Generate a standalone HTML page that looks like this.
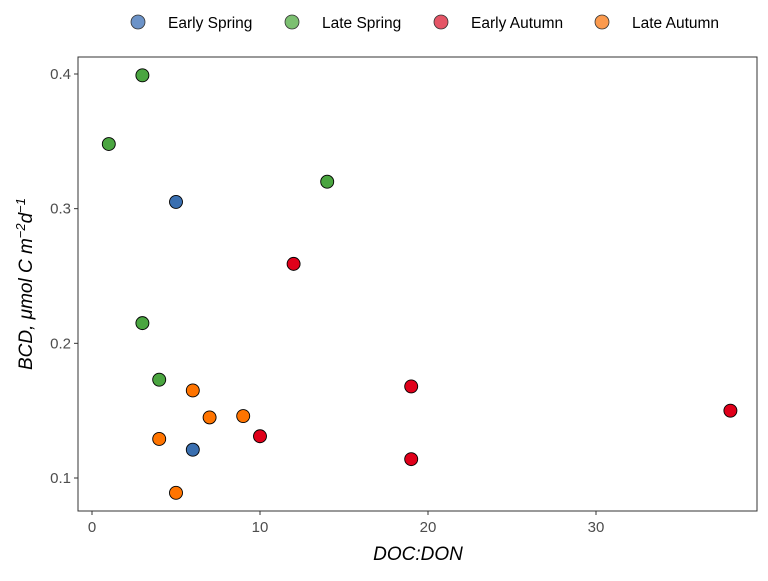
<!DOCTYPE html>
<html><head><meta charset="utf-8"><style>
body{margin:0;background:#fff;font-family:"Liberation Sans",Arial,sans-serif}
svg text{font-family:"Liberation Sans",Arial,sans-serif}
</style></head><body>
<svg width="768" height="576" xmlns="http://www.w3.org/2000/svg" id="chart">
<rect x="78" y="57" width="679" height="454" fill="#fff" stroke="#333" stroke-width="1"/>
<g id="axes"></g>
<g id="points"></g>
<g id="legend"></g>
<text x="418" y="560" text-anchor="middle" font-size="19" font-style="italic" fill="#000">DOC:DON</text>
<text transform="translate(32,284) rotate(-90)" text-anchor="middle" font-size="19" font-style="italic" fill="#000">BCD, μmol C m<tspan dy="-7" font-size="13">−2</tspan><tspan dy="7">d</tspan><tspan dy="-7" font-size="13">−1</tspan></text>
</svg>
<script>
const seriesNames=["Early Spring","Late Spring","Early Autumn","Late Autumn"];
const seriesColors=["#3a6fb0","#4aa540","#e0001a","#ff7400"];
const legendColors=["#6c93c8","#7cc071","#e55566","#fb9a4e"];
const xTicks=[0,10,20,30];
const yTicks=[0.1,0.2,0.3,0.4];
const esX=[5,6], esY=[0.305,0.121];
const lsX=[3,1,14,3,4], lsY=[0.399,0.348,0.320,0.215,0.173];
const eaX=[12,19,19,10,38], eaY=[0.259,0.168,0.114,0.131,0.150];
const laX=[6,7,9,4,5], laY=[0.165,0.145,0.146,0.129,0.089];
const NS="http://www.w3.org/2000/svg";
const xs=v=>92+v*16.8;
const ys=v=>478-(v-0.1)*1346.7;
const axes=document.getElementById('axes');
function mk(t,a,p){const e=document.createElementNS(NS,t);for(const k in a)e.setAttribute(k,a[k]);p.appendChild(e);return e;}
xTicks.forEach(t=>{
 const l=mk('line',{x1:xs(t),x2:xs(t),y1:511,y2:515,stroke:'#333'},axes);
 
 
 const tx=mk('text',{x:xs(t),y:532,'text-anchor':'middle','font-size':15,fill:'#4d4d4d'},axes);tx.textContent=t;
 
 
});
yTicks.forEach(t=>{
 const l=mk('line',{x1:74,x2:78,y1:ys(t),y2:ys(t),stroke:'#333'},axes);
 
 
 const tx=mk('text',{x:71,y:ys(t)+5,'text-anchor':'end','font-size':15,fill:'#4d4d4d'},axes);tx.textContent=t.toFixed(1);
 
 
});
const pts=document.getElementById('points');
[[esX,esY],[lsX,lsY],[eaX,eaY],[laX,laY]].forEach((s,i)=>{
 s[0].forEach((x,j)=>{
  const c=mk('circle',{cx:xs(x),cy:ys(s[1][j]),r:6.5,fill:seriesColors[i],stroke:'#000','stroke-width':0.9},pts);
  
  
 });
});
const leg=document.getElementById('legend');
const lx=[138,292,441,602];
seriesNames.forEach((n,i)=>{
 const c=mk('circle',{cx:lx[i],cy:22,r:7,fill:legendColors[i],stroke:'#333','stroke-width':0.8},leg);
 
 
 const t=mk('text',{x:lx[i]+30,y:28,'font-size':15.5,fill:'#000'},leg);t.textContent=n;
 
 
});
</script>
</body></html>
